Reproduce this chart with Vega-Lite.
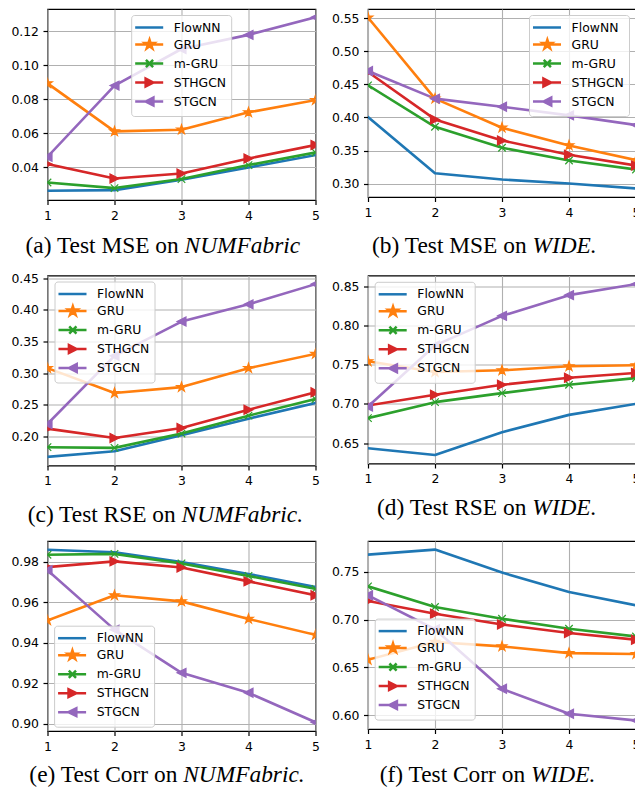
{
  "$schema": "https://vega.github.io/schema/vega-lite/v6.json",
  "autosize": {"type": "pad"},
  "padding": {"left": 9.5, "top": 8, "right": 0, "bottom": 0},
  "data": {"values": [
    {"p":"a","m":"FlowNN","x":1,"y":0.0263},{"p":"a","m":"FlowNN","x":2,"y":0.0267},{"p":"a","m":"FlowNN","x":3,"y":0.0328},{"p":"a","m":"FlowNN","x":4,"y":0.0400},{"p":"a","m":"FlowNN","x":5,"y":0.0473},
    {"p":"a","m":"GRU","x":1,"y":0.0894},{"p":"a","m":"GRU","x":2,"y":0.0612},{"p":"a","m":"GRU","x":3,"y":0.0622},{"p":"a","m":"GRU","x":4,"y":0.0724},{"p":"a","m":"GRU","x":5,"y":0.0796},
    {"p":"a","m":"m-GRU","x":1,"y":0.0312},{"p":"a","m":"m-GRU","x":2,"y":0.0279},{"p":"a","m":"m-GRU","x":3,"y":0.0332},{"p":"a","m":"m-GRU","x":4,"y":0.0414},{"p":"a","m":"m-GRU","x":5,"y":0.0488},
    {"p":"a","m":"STHGCN","x":1,"y":0.0420},{"p":"a","m":"STHGCN","x":2,"y":0.0335},{"p":"a","m":"STHGCN","x":3,"y":0.0365},{"p":"a","m":"STHGCN","x":4,"y":0.0453},{"p":"a","m":"STHGCN","x":5,"y":0.0532},
    {"p":"a","m":"STGCN","x":1,"y":0.0463},{"p":"a","m":"STGCN","x":2,"y":0.0881},{"p":"a","m":"STGCN","x":3,"y":0.1096},{"p":"a","m":"STGCN","x":4,"y":0.1179},{"p":"a","m":"STGCN","x":5,"y":0.1282},
    {"p":"b","m":"FlowNN","x":1,"y":0.4006},{"p":"b","m":"FlowNN","x":2,"y":0.3160},{"p":"b","m":"FlowNN","x":3,"y":0.3065},{"p":"b","m":"FlowNN","x":4,"y":0.3005},{"p":"b","m":"FlowNN","x":5,"y":0.2930},
    {"p":"b","m":"GRU","x":1,"y":0.5507},{"p":"b","m":"GRU","x":2,"y":0.4284},{"p":"b","m":"GRU","x":3,"y":0.3846},{"p":"b","m":"GRU","x":4,"y":0.3579},{"p":"b","m":"GRU","x":5,"y":0.3357},
    {"p":"b","m":"m-GRU","x":1,"y":0.4485},{"p":"b","m":"m-GRU","x":2,"y":0.3860},{"p":"b","m":"m-GRU","x":3,"y":0.3544},{"p":"b","m":"m-GRU","x":4,"y":0.3352},{"p":"b","m":"m-GRU","x":5,"y":0.3216},
    {"p":"b","m":"STHGCN","x":1,"y":0.4686},{"p":"b","m":"STHGCN","x":2,"y":0.3971},{"p":"b","m":"STHGCN","x":3,"y":0.3654},{"p":"b","m":"STHGCN","x":4,"y":0.3438},{"p":"b","m":"STHGCN","x":5,"y":0.3276},
    {"p":"b","m":"STGCN","x":1,"y":0.4700},{"p":"b","m":"STGCN","x":2,"y":0.4284},{"p":"b","m":"STGCN","x":3,"y":0.4163},{"p":"b","m":"STGCN","x":4,"y":0.4032},{"p":"b","m":"STGCN","x":5,"y":0.3886},
    {"p":"c","m":"FlowNN","x":1,"y":0.1673},{"p":"c","m":"FlowNN","x":2,"y":0.1763},{"p":"c","m":"FlowNN","x":3,"y":0.2016},{"p":"c","m":"FlowNN","x":4,"y":0.2278},{"p":"c","m":"FlowNN","x":5,"y":0.2526},
    {"p":"c","m":"GRU","x":1,"y":0.3078},{"p":"c","m":"GRU","x":2,"y":0.2684},{"p":"c","m":"GRU","x":3,"y":0.2778},{"p":"c","m":"GRU","x":4,"y":0.3078},{"p":"c","m":"GRU","x":5,"y":0.3304},
    {"p":"c","m":"m-GRU","x":1,"y":0.1826},{"p":"c","m":"m-GRU","x":2,"y":0.1815},{"p":"c","m":"m-GRU","x":3,"y":0.2042},{"p":"c","m":"m-GRU","x":4,"y":0.2326},{"p":"c","m":"m-GRU","x":5,"y":0.2589},
    {"p":"c","m":"STHGCN","x":1,"y":0.2120},{"p":"c","m":"STHGCN","x":2,"y":0.1973},{"p":"c","m":"STHGCN","x":3,"y":0.2131},{"p":"c","m":"STHGCN","x":4,"y":0.2420},{"p":"c","m":"STHGCN","x":5,"y":0.2695},
    {"p":"c","m":"STGCN","x":1,"y":0.2194},{"p":"c","m":"STGCN","x":2,"y":0.3273},{"p":"c","m":"STGCN","x":3,"y":0.3816},{"p":"c","m":"STGCN","x":4,"y":0.4089},{"p":"c","m":"STGCN","x":5,"y":0.4409},
    {"p":"d","m":"FlowNN","x":1,"y":0.6436},{"p":"d","m":"FlowNN","x":2,"y":0.6351},{"p":"d","m":"FlowNN","x":3,"y":0.6640},{"p":"d","m":"FlowNN","x":4,"y":0.6861},{"p":"d","m":"FlowNN","x":5,"y":0.7002},
    {"p":"d","m":"GRU","x":1,"y":0.7543},{"p":"d","m":"GRU","x":2,"y":0.7406},{"p":"d","m":"GRU","x":3,"y":0.7428},{"p":"d","m":"GRU","x":4,"y":0.7479},{"p":"d","m":"GRU","x":5,"y":0.7492},
    {"p":"d","m":"m-GRU","x":1,"y":0.6819},{"p":"d","m":"m-GRU","x":2,"y":0.7023},{"p":"d","m":"m-GRU","x":3,"y":0.7138},{"p":"d","m":"m-GRU","x":4,"y":0.7244},{"p":"d","m":"m-GRU","x":5,"y":0.7330},
    {"p":"d","m":"STHGCN","x":1,"y":0.6981},{"p":"d","m":"STHGCN","x":2,"y":0.7117},{"p":"d","m":"STHGCN","x":3,"y":0.7244},{"p":"d","m":"STHGCN","x":4,"y":0.7334},{"p":"d","m":"STHGCN","x":5,"y":0.7394},
    {"p":"d","m":"STGCN","x":1,"y":0.6968},{"p":"d","m":"STGCN","x":2,"y":0.7745},{"p":"d","m":"STGCN","x":3,"y":0.8121},{"p":"d","m":"STGCN","x":4,"y":0.8385},{"p":"d","m":"STGCN","x":5,"y":0.8526},
    {"p":"e","m":"FlowNN","x":1,"y":0.9861},{"p":"e","m":"FlowNN","x":2,"y":0.9848},{"p":"e","m":"FlowNN","x":3,"y":0.9800},{"p":"e","m":"FlowNN","x":4,"y":0.9741},{"p":"e","m":"FlowNN","x":5,"y":0.9676},
    {"p":"e","m":"GRU","x":1,"y":0.9511},{"p":"e","m":"GRU","x":2,"y":0.9635},{"p":"e","m":"GRU","x":3,"y":0.9605},{"p":"e","m":"GRU","x":4,"y":0.9518},{"p":"e","m":"GRU","x":5,"y":0.9439},
    {"p":"e","m":"m-GRU","x":1,"y":0.9836},{"p":"e","m":"m-GRU","x":2,"y":0.9840},{"p":"e","m":"m-GRU","x":3,"y":0.9793},{"p":"e","m":"m-GRU","x":4,"y":0.9731},{"p":"e","m":"m-GRU","x":5,"y":0.9667},
    {"p":"e","m":"STHGCN","x":1,"y":0.9775},{"p":"e","m":"STHGCN","x":2,"y":0.9803},{"p":"e","m":"STHGCN","x":3,"y":0.9773},{"p":"e","m":"STHGCN","x":4,"y":0.9704},{"p":"e","m":"STHGCN","x":5,"y":0.9635},
    {"p":"e","m":"STGCN","x":1,"y":0.9759},{"p":"e","m":"STGCN","x":2,"y":0.9465},{"p":"e","m":"STGCN","x":3,"y":0.9251},{"p":"e","m":"STGCN","x":4,"y":0.9152},{"p":"e","m":"STGCN","x":5,"y":0.9006},
    {"p":"f","m":"FlowNN","x":1,"y":0.7681},{"p":"f","m":"FlowNN","x":2,"y":0.7734},{"p":"f","m":"FlowNN","x":3,"y":0.7493},{"p":"f","m":"FlowNN","x":4,"y":0.7290},{"p":"f","m":"FlowNN","x":5,"y":0.7150},
    {"p":"f","m":"GRU","x":1,"y":0.6580},{"p":"f","m":"GRU","x":2,"y":0.6766},{"p":"f","m":"GRU","x":3,"y":0.6720},{"p":"f","m":"GRU","x":4,"y":0.6650},{"p":"f","m":"GRU","x":5,"y":0.6640},
    {"p":"f","m":"m-GRU","x":1,"y":0.7349},{"p":"f","m":"m-GRU","x":2,"y":0.7133},{"p":"f","m":"m-GRU","x":3,"y":0.7010},{"p":"f","m":"m-GRU","x":4,"y":0.6905},{"p":"f","m":"m-GRU","x":5,"y":0.6824},
    {"p":"f","m":"STHGCN","x":1,"y":0.7196},{"p":"f","m":"STHGCN","x":2,"y":0.7062},{"p":"f","m":"STHGCN","x":3,"y":0.6950},{"p":"f","m":"STHGCN","x":4,"y":0.6860},{"p":"f","m":"STHGCN","x":5,"y":0.6790},
    {"p":"f","m":"STGCN","x":1,"y":0.7255},{"p":"f","m":"STGCN","x":2,"y":0.6900},{"p":"f","m":"STGCN","x":3,"y":0.6276},{"p":"f","m":"STGCN","x":4,"y":0.6014},{"p":"f","m":"STGCN","x":5,"y":0.5944}
  ]},
  "spacing": 12.5,
  "resolve": {"scale": {"color": "independent"}, "legend": {"color": "independent"}},
  "vconcat": [
    {
      "spacing": 9.5,
      "resolve": {"scale": {"color": "independent"}, "legend": {"color": "independent"}},
      "hconcat": [
        {
          "width": 268, "height": 191,
          "transform": [{"filter": "datum.p === 'a'"}],
          "title": {"text": "(a) Test MSE on", "subtitle": "NUMFabric", "offset": 13.2, "encode": {"title": {"update": {"align": {"value": "right"}, "dx": {"value": -2.75}}}, "subtitle": {"update": {"align": {"value": "left"}, "dx": {"value": 3.1}}}}},
          "encoding": {
            "x": {"field": "x", "type": "quantitative", "scale": {"domain": [1, 5], "nice": false, "zero": false}, "axis": {"values": [1, 2, 3, 4, 5], "format": "d", "title": null, "labelFlush": false}},
            "y": {"field": "y", "type": "quantitative", "scale": {"domain": [0.0209, 0.1331], "nice": false, "zero": false}, "axis": {"values": [0.04, 0.06, 0.08, 0.10, 0.12], "format": ".2f", "title": null}},
            "color": {"field": "m", "type": "nominal", "scale": {"domain": ["FlowNN", "GRU", "m-GRU", "STHGCN", "STGCN"], "range": ["#1f77b4", "#ff7f0e", "#2ca02c", "#d62728", "#9467bd"]},
              "legend": {"orient": "none", "legendX": 83.7, "legendY": 6, "title": null,
                "encode": {"symbols": {"update": {
                  "shape": {"signal": "datum.value === 'GRU' ? 'M-1.42,0L3.25,0M0.97,-0.8L1.15,-0.247L1.731,-0.247L1.26,0.094L1.44,0.647L0.97,0.306L0.5,0.647L0.68,0.094L0.209,-0.247L0.79,-0.247Z' : datum.value === 'm-GRU' ? 'M-1.42,0L3.25,0M0.37,-0.6L1.57,0.6M0.37,0.6L1.57,-0.6' : datum.value === 'STHGCN' ? 'M-1.42,0L3.25,0M1.62,0L0.32,-0.65L0.32,0.65Z' : datum.value === 'STGCN' ? 'M-1.42,0L3.25,0M0.32,0L1.62,-0.65L1.62,0.65Z' : 'M-1.42,0L3.25,0'"},
                  "fill": {"signal": "datum.value === 'FlowNN' ? '#1f77b4' : datum.value === 'GRU' ? '#ff7f0e' : datum.value === 'm-GRU' ? '#2ca02c' : datum.value === 'STHGCN' ? '#d62728' : '#9467bd'"},
                  "stroke": {"signal": "datum.value === 'FlowNN' ? '#1f77b4' : datum.value === 'GRU' ? '#ff7f0e' : datum.value === 'm-GRU' ? '#2ca02c' : datum.value === 'STHGCN' ? '#d62728' : '#9467bd'"},
                  "strokeWidth": {"value": 2.5},
                  "opacity": {"value": 1}
                }}}}}
          },
          "layer": [
            {"mark": {"type": "line", "strokeWidth": 2.6, "strokeJoin": "round", "strokeCap": "square", "clip": true}},
            {"transform": [{"filter": "datum.m !== 'FlowNN'"}],
             "mark": {"type": "point", "filled": true, "opacity": 1, "size": 100, "strokeWidth": 1.2, "clip": true},
             "encoding": {
               "color": {"field": "m", "type": "nominal", "legend": null},
               "stroke": {"field": "m", "type": "nominal", "scale": {"domain": ["FlowNN", "GRU", "m-GRU", "STHGCN", "STGCN"], "range": ["#1f77b4", "#ff7f0e", "#2ca02c", "#d62728", "#9467bd"]}, "legend": null},
               "shape": {"field": "m", "type": "nominal", "scale": {"domain": ["GRU", "m-GRU", "STHGCN", "STGCN"], "range": ["M0,-1L0.225,-0.309L0.951,-0.309L0.363,0.118L0.588,0.809L0,0.382L-0.588,0.809L-0.363,0.118L-0.951,-0.309L-0.225,-0.309Z", "M-0.75,-0.75L0.75,0.75M-0.75,0.75L0.75,-0.75", "M0.9,0L-0.9,-0.9L-0.9,0.9Z", "M-0.9,0L0.9,-0.9L0.9,0.9Z"]}, "legend": null}
             }}
          ]
        },
        {
          "width": 268, "height": 188,
          "transform": [{"filter": "datum.p === 'b'"}],
          "title": {"text": "(b) Test MSE on", "subtitle": "WIDE.", "offset": 16.8, "encode": {"title": {"update": {"align": {"value": "right"}, "dx": {"value": 24.6}}}, "subtitle": {"update": {"align": {"value": "left"}, "dx": {"value": 30.4}}}}},
          "encoding": {
            "x": {"field": "x", "type": "quantitative", "scale": {"domain": [1, 5], "nice": false, "zero": false}, "axis": {"values": [1, 2, 3, 4, 5], "format": "d", "title": null, "labelFlush": false}},
            "y": {"field": "y", "type": "quantitative", "scale": {"domain": [0.2801, 0.5636], "nice": false, "zero": false}, "axis": {"values": [0.30, 0.35, 0.40, 0.45, 0.50, 0.55], "format": ".2f", "title": null}},
            "color": {"field": "m", "type": "nominal", "scale": {"domain": ["FlowNN", "GRU", "m-GRU", "STHGCN", "STGCN"], "range": ["#1f77b4", "#ff7f0e", "#2ca02c", "#d62728", "#9467bd"]},
              "legend": {"orient": "none", "legendX": 161, "legendY": 6, "title": null,
                "encode": {"symbols": {"update": {
                  "shape": {"signal": "datum.value === 'GRU' ? 'M-1.42,0L3.25,0M0.97,-0.8L1.15,-0.247L1.731,-0.247L1.26,0.094L1.44,0.647L0.97,0.306L0.5,0.647L0.68,0.094L0.209,-0.247L0.79,-0.247Z' : datum.value === 'm-GRU' ? 'M-1.42,0L3.25,0M0.37,-0.6L1.57,0.6M0.37,0.6L1.57,-0.6' : datum.value === 'STHGCN' ? 'M-1.42,0L3.25,0M1.62,0L0.32,-0.65L0.32,0.65Z' : datum.value === 'STGCN' ? 'M-1.42,0L3.25,0M0.32,0L1.62,-0.65L1.62,0.65Z' : 'M-1.42,0L3.25,0'"},
                  "fill": {"signal": "datum.value === 'FlowNN' ? '#1f77b4' : datum.value === 'GRU' ? '#ff7f0e' : datum.value === 'm-GRU' ? '#2ca02c' : datum.value === 'STHGCN' ? '#d62728' : '#9467bd'"},
                  "stroke": {"signal": "datum.value === 'FlowNN' ? '#1f77b4' : datum.value === 'GRU' ? '#ff7f0e' : datum.value === 'm-GRU' ? '#2ca02c' : datum.value === 'STHGCN' ? '#d62728' : '#9467bd'"},
                  "strokeWidth": {"value": 2.5},
                  "opacity": {"value": 1}
                }}}}}
          },
          "layer": [
            {"mark": {"type": "line", "strokeWidth": 2.6, "strokeJoin": "round", "strokeCap": "square", "clip": true}},
            {"transform": [{"filter": "datum.m !== 'FlowNN'"}],
             "mark": {"type": "point", "filled": true, "opacity": 1, "size": 100, "strokeWidth": 1.2, "clip": true},
             "encoding": {
               "color": {"field": "m", "type": "nominal", "legend": null},
               "stroke": {"field": "m", "type": "nominal", "scale": {"domain": ["FlowNN", "GRU", "m-GRU", "STHGCN", "STGCN"], "range": ["#1f77b4", "#ff7f0e", "#2ca02c", "#d62728", "#9467bd"]}, "legend": null},
               "shape": {"field": "m", "type": "nominal", "scale": {"domain": ["GRU", "m-GRU", "STHGCN", "STGCN"], "range": ["M0,-1L0.225,-0.309L0.951,-0.309L0.363,0.118L0.588,0.809L0,0.382L-0.588,0.809L-0.363,0.118L-0.951,-0.309L-0.225,-0.309Z", "M-0.75,-0.75L0.75,0.75M-0.75,0.75L0.75,-0.75", "M0.9,0L-0.9,-0.9L-0.9,0.9Z", "M-0.9,0L0.9,-0.9L0.9,0.9Z"]}, "legend": null}
             }}
          ]
        }
      ]
    },
    {
      "spacing": 9.5,
      "resolve": {"scale": {"color": "independent"}, "legend": {"color": "independent"}},
      "hconcat": [
        {
          "width": 268, "height": 190,
          "transform": [{"filter": "datum.p === 'c'"}],
          "title": {"text": "(c) Test RSE on", "subtitle": "NUMFabric.", "offset": 16.8, "encode": {"title": {"update": {"align": {"value": "right"}, "dx": {"value": -5.75}}}, "subtitle": {"update": {"align": {"value": "left"}, "dx": {"value": 0.1}}}}},
          "encoding": {
            "x": {"field": "x", "type": "quantitative", "scale": {"domain": [1, 5], "nice": false, "zero": false}, "axis": {"values": [1, 2, 3, 4, 5], "format": "d", "title": null, "labelFlush": false}},
            "y": {"field": "y", "type": "quantitative", "scale": {"domain": [0.1536, 0.4546], "nice": false, "zero": false}, "axis": {"values": [0.20, 0.25, 0.30, 0.35, 0.40, 0.45], "format": ".2f", "title": null}},
            "color": {"field": "m", "type": "nominal", "scale": {"domain": ["FlowNN", "GRU", "m-GRU", "STHGCN", "STGCN"], "range": ["#1f77b4", "#ff7f0e", "#2ca02c", "#d62728", "#9467bd"]},
              "legend": {"orient": "none", "legendX": 7, "legendY": 6, "title": null,
                "encode": {"symbols": {"update": {
                  "shape": {"signal": "datum.value === 'GRU' ? 'M-1.42,0L3.25,0M0.97,-0.8L1.15,-0.247L1.731,-0.247L1.26,0.094L1.44,0.647L0.97,0.306L0.5,0.647L0.68,0.094L0.209,-0.247L0.79,-0.247Z' : datum.value === 'm-GRU' ? 'M-1.42,0L3.25,0M0.37,-0.6L1.57,0.6M0.37,0.6L1.57,-0.6' : datum.value === 'STHGCN' ? 'M-1.42,0L3.25,0M1.62,0L0.32,-0.65L0.32,0.65Z' : datum.value === 'STGCN' ? 'M-1.42,0L3.25,0M0.32,0L1.62,-0.65L1.62,0.65Z' : 'M-1.42,0L3.25,0'"},
                  "fill": {"signal": "datum.value === 'FlowNN' ? '#1f77b4' : datum.value === 'GRU' ? '#ff7f0e' : datum.value === 'm-GRU' ? '#2ca02c' : datum.value === 'STHGCN' ? '#d62728' : '#9467bd'"},
                  "stroke": {"signal": "datum.value === 'FlowNN' ? '#1f77b4' : datum.value === 'GRU' ? '#ff7f0e' : datum.value === 'm-GRU' ? '#2ca02c' : datum.value === 'STHGCN' ? '#d62728' : '#9467bd'"},
                  "strokeWidth": {"value": 2.5},
                  "opacity": {"value": 1}
                }}}}}
          },
          "layer": [
            {"mark": {"type": "line", "strokeWidth": 2.6, "strokeJoin": "round", "strokeCap": "square", "clip": true}},
            {"transform": [{"filter": "datum.m !== 'FlowNN'"}],
             "mark": {"type": "point", "filled": true, "opacity": 1, "size": 100, "strokeWidth": 1.2, "clip": true},
             "encoding": {
               "color": {"field": "m", "type": "nominal", "legend": null},
               "stroke": {"field": "m", "type": "nominal", "scale": {"domain": ["FlowNN", "GRU", "m-GRU", "STHGCN", "STGCN"], "range": ["#1f77b4", "#ff7f0e", "#2ca02c", "#d62728", "#9467bd"]}, "legend": null},
               "shape": {"field": "m", "type": "nominal", "scale": {"domain": ["GRU", "m-GRU", "STHGCN", "STGCN"], "range": ["M0,-1L0.225,-0.309L0.951,-0.309L0.363,0.118L0.588,0.809L0,0.382L-0.588,0.809L-0.363,0.118L-0.951,-0.309L-0.225,-0.309Z", "M-0.75,-0.75L0.75,0.75M-0.75,0.75L0.75,-0.75", "M0.9,0L-0.9,-0.9L-0.9,0.9Z", "M-0.9,0L0.9,-0.9L0.9,0.9Z"]}, "legend": null}
             }}
          ]
        },
        {
          "width": 268, "height": 188,
          "transform": [{"filter": "datum.p === 'd'"}],
          "title": {"text": "(d) Test RSE on", "subtitle": "WIDE.", "offset": 11.8, "encode": {"title": {"update": {"align": {"value": "right"}, "dx": {"value": 24.35}}}, "subtitle": {"update": {"align": {"value": "left"}, "dx": {"value": 30.2}}}}},
          "encoding": {
            "x": {"field": "x", "type": "quantitative", "scale": {"domain": [1, 5], "nice": false, "zero": false}, "axis": {"values": [1, 2, 3, 4, 5], "format": "d", "title": null, "labelFlush": false}},
            "y": {"field": "y", "type": "quantitative", "scale": {"domain": [0.6242, 0.8635], "nice": false, "zero": false}, "axis": {"values": [0.65, 0.70, 0.75, 0.80, 0.85], "format": ".2f", "title": null}},
            "color": {"field": "m", "type": "nominal", "scale": {"domain": ["FlowNN", "GRU", "m-GRU", "STHGCN", "STGCN"], "range": ["#1f77b4", "#ff7f0e", "#2ca02c", "#d62728", "#9467bd"]},
              "legend": {"orient": "none", "legendX": 6.7, "legendY": 6.3, "title": null,
                "encode": {"symbols": {"update": {
                  "shape": {"signal": "datum.value === 'GRU' ? 'M-1.42,0L3.25,0M0.97,-0.8L1.15,-0.247L1.731,-0.247L1.26,0.094L1.44,0.647L0.97,0.306L0.5,0.647L0.68,0.094L0.209,-0.247L0.79,-0.247Z' : datum.value === 'm-GRU' ? 'M-1.42,0L3.25,0M0.37,-0.6L1.57,0.6M0.37,0.6L1.57,-0.6' : datum.value === 'STHGCN' ? 'M-1.42,0L3.25,0M1.62,0L0.32,-0.65L0.32,0.65Z' : datum.value === 'STGCN' ? 'M-1.42,0L3.25,0M0.32,0L1.62,-0.65L1.62,0.65Z' : 'M-1.42,0L3.25,0'"},
                  "fill": {"signal": "datum.value === 'FlowNN' ? '#1f77b4' : datum.value === 'GRU' ? '#ff7f0e' : datum.value === 'm-GRU' ? '#2ca02c' : datum.value === 'STHGCN' ? '#d62728' : '#9467bd'"},
                  "stroke": {"signal": "datum.value === 'FlowNN' ? '#1f77b4' : datum.value === 'GRU' ? '#ff7f0e' : datum.value === 'm-GRU' ? '#2ca02c' : datum.value === 'STHGCN' ? '#d62728' : '#9467bd'"},
                  "strokeWidth": {"value": 2.5},
                  "opacity": {"value": 1}
                }}}}}
          },
          "layer": [
            {"mark": {"type": "line", "strokeWidth": 2.6, "strokeJoin": "round", "strokeCap": "square", "clip": true}},
            {"transform": [{"filter": "datum.m !== 'FlowNN'"}],
             "mark": {"type": "point", "filled": true, "opacity": 1, "size": 100, "strokeWidth": 1.2, "clip": true},
             "encoding": {
               "color": {"field": "m", "type": "nominal", "legend": null},
               "stroke": {"field": "m", "type": "nominal", "scale": {"domain": ["FlowNN", "GRU", "m-GRU", "STHGCN", "STGCN"], "range": ["#1f77b4", "#ff7f0e", "#2ca02c", "#d62728", "#9467bd"]}, "legend": null},
               "shape": {"field": "m", "type": "nominal", "scale": {"domain": ["GRU", "m-GRU", "STHGCN", "STGCN"], "range": ["M0,-1L0.225,-0.309L0.951,-0.309L0.363,0.118L0.588,0.809L0,0.382L-0.588,0.809L-0.363,0.118L-0.951,-0.309L-0.225,-0.309Z", "M-0.75,-0.75L0.75,0.75M-0.75,0.75L0.75,-0.75", "M0.9,0L-0.9,-0.9L-0.9,0.9Z", "M-0.9,0L0.9,-0.9L0.9,0.9Z"]}, "legend": null}
             }}
          ]
        }
      ]
    },
    {
      "spacing": 9.5,
      "resolve": {"scale": {"color": "independent"}, "legend": {"color": "independent"}},
      "hconcat": [
        {
          "width": 268, "height": 190,
          "transform": [{"filter": "datum.p === 'e'"}],
          "title": {"text": "(e) Test Corr on", "subtitle": "NUMFabric.", "offset": 11.3, "encode": {"title": {"update": {"align": {"value": "right"}, "dx": {"value": -4.15}}}, "subtitle": {"update": {"align": {"value": "left"}, "dx": {"value": 1.7}}}}},
          "encoding": {
            "x": {"field": "x", "type": "quantitative", "scale": {"domain": [1, 5], "nice": false, "zero": false}, "axis": {"values": [1, 2, 3, 4, 5], "format": "d", "title": null, "labelFlush": false}},
            "y": {"field": "y", "type": "quantitative", "scale": {"domain": [0.8963, 0.9904], "nice": false, "zero": false}, "axis": {"values": [0.90, 0.92, 0.94, 0.96, 0.98], "format": ".2f", "title": null}},
            "color": {"field": "m", "type": "nominal", "scale": {"domain": ["FlowNN", "GRU", "m-GRU", "STHGCN", "STGCN"], "range": ["#1f77b4", "#ff7f0e", "#2ca02c", "#d62728", "#9467bd"]},
              "legend": {"orient": "none", "legendX": 6.6, "legendY": 84.7, "title": null,
                "encode": {"symbols": {"update": {
                  "shape": {"signal": "datum.value === 'GRU' ? 'M-1.42,0L3.25,0M0.97,-0.8L1.15,-0.247L1.731,-0.247L1.26,0.094L1.44,0.647L0.97,0.306L0.5,0.647L0.68,0.094L0.209,-0.247L0.79,-0.247Z' : datum.value === 'm-GRU' ? 'M-1.42,0L3.25,0M0.37,-0.6L1.57,0.6M0.37,0.6L1.57,-0.6' : datum.value === 'STHGCN' ? 'M-1.42,0L3.25,0M1.62,0L0.32,-0.65L0.32,0.65Z' : datum.value === 'STGCN' ? 'M-1.42,0L3.25,0M0.32,0L1.62,-0.65L1.62,0.65Z' : 'M-1.42,0L3.25,0'"},
                  "fill": {"signal": "datum.value === 'FlowNN' ? '#1f77b4' : datum.value === 'GRU' ? '#ff7f0e' : datum.value === 'm-GRU' ? '#2ca02c' : datum.value === 'STHGCN' ? '#d62728' : '#9467bd'"},
                  "stroke": {"signal": "datum.value === 'FlowNN' ? '#1f77b4' : datum.value === 'GRU' ? '#ff7f0e' : datum.value === 'm-GRU' ? '#2ca02c' : datum.value === 'STHGCN' ? '#d62728' : '#9467bd'"},
                  "strokeWidth": {"value": 2.5},
                  "opacity": {"value": 1}
                }}}}}
          },
          "layer": [
            {"mark": {"type": "line", "strokeWidth": 2.6, "strokeJoin": "round", "strokeCap": "square", "clip": true}},
            {"transform": [{"filter": "datum.m !== 'FlowNN'"}],
             "mark": {"type": "point", "filled": true, "opacity": 1, "size": 100, "strokeWidth": 1.2, "clip": true},
             "encoding": {
               "color": {"field": "m", "type": "nominal", "legend": null},
               "stroke": {"field": "m", "type": "nominal", "scale": {"domain": ["FlowNN", "GRU", "m-GRU", "STHGCN", "STGCN"], "range": ["#1f77b4", "#ff7f0e", "#2ca02c", "#d62728", "#9467bd"]}, "legend": null},
               "shape": {"field": "m", "type": "nominal", "scale": {"domain": ["GRU", "m-GRU", "STHGCN", "STGCN"], "range": ["M0,-1L0.225,-0.309L0.951,-0.309L0.363,0.118L0.588,0.809L0,0.382L-0.588,0.809L-0.363,0.118L-0.951,-0.309L-0.225,-0.309Z", "M-0.75,-0.75L0.75,0.75M-0.75,0.75L0.75,-0.75", "M0.9,0L-0.9,-0.9L-0.9,0.9Z", "M-0.9,0L0.9,-0.9L0.9,0.9Z"]}, "legend": null}
             }}
          ]
        },
        {
          "width": 268, "height": 188,
          "transform": [{"filter": "datum.p === 'f'"}],
          "title": {"text": "(f) Test Corr on", "subtitle": "WIDE.", "offset": 13.3, "encode": {"title": {"update": {"align": {"value": "right"}, "dx": {"value": 23.15}}}, "subtitle": {"update": {"align": {"value": "left"}, "dx": {"value": 29}}}}},
          "encoding": {
            "x": {"field": "x", "type": "quantitative", "scale": {"domain": [1, 5], "nice": false, "zero": false}, "axis": {"values": [1, 2, 3, 4, 5], "format": "d", "title": null, "labelFlush": false}},
            "y": {"field": "y", "type": "quantitative", "scale": {"domain": [0.5855, 0.7824], "nice": false, "zero": false}, "axis": {"values": [0.60, 0.65, 0.70, 0.75], "format": ".2f", "title": null}},
            "color": {"field": "m", "type": "nominal", "scale": {"domain": ["FlowNN", "GRU", "m-GRU", "STHGCN", "STGCN"], "range": ["#1f77b4", "#ff7f0e", "#2ca02c", "#d62728", "#9467bd"]},
              "legend": {"orient": "none", "legendX": 6.7, "legendY": 77.6, "title": null,
                "encode": {"symbols": {"update": {
                  "shape": {"signal": "datum.value === 'GRU' ? 'M-1.42,0L3.25,0M0.97,-0.8L1.15,-0.247L1.731,-0.247L1.26,0.094L1.44,0.647L0.97,0.306L0.5,0.647L0.68,0.094L0.209,-0.247L0.79,-0.247Z' : datum.value === 'm-GRU' ? 'M-1.42,0L3.25,0M0.37,-0.6L1.57,0.6M0.37,0.6L1.57,-0.6' : datum.value === 'STHGCN' ? 'M-1.42,0L3.25,0M1.62,0L0.32,-0.65L0.32,0.65Z' : datum.value === 'STGCN' ? 'M-1.42,0L3.25,0M0.32,0L1.62,-0.65L1.62,0.65Z' : 'M-1.42,0L3.25,0'"},
                  "fill": {"signal": "datum.value === 'FlowNN' ? '#1f77b4' : datum.value === 'GRU' ? '#ff7f0e' : datum.value === 'm-GRU' ? '#2ca02c' : datum.value === 'STHGCN' ? '#d62728' : '#9467bd'"},
                  "stroke": {"signal": "datum.value === 'FlowNN' ? '#1f77b4' : datum.value === 'GRU' ? '#ff7f0e' : datum.value === 'm-GRU' ? '#2ca02c' : datum.value === 'STHGCN' ? '#d62728' : '#9467bd'"},
                  "strokeWidth": {"value": 2.5},
                  "opacity": {"value": 1}
                }}}}}
          },
          "layer": [
            {"mark": {"type": "line", "strokeWidth": 2.6, "strokeJoin": "round", "strokeCap": "square", "clip": true}},
            {"transform": [{"filter": "datum.m !== 'FlowNN'"}],
             "mark": {"type": "point", "filled": true, "opacity": 1, "size": 100, "strokeWidth": 1.2, "clip": true},
             "encoding": {
               "color": {"field": "m", "type": "nominal", "legend": null},
               "stroke": {"field": "m", "type": "nominal", "scale": {"domain": ["FlowNN", "GRU", "m-GRU", "STHGCN", "STGCN"], "range": ["#1f77b4", "#ff7f0e", "#2ca02c", "#d62728", "#9467bd"]}, "legend": null},
               "shape": {"field": "m", "type": "nominal", "scale": {"domain": ["GRU", "m-GRU", "STHGCN", "STGCN"], "range": ["M0,-1L0.225,-0.309L0.951,-0.309L0.363,0.118L0.588,0.809L0,0.382L-0.588,0.809L-0.363,0.118L-0.951,-0.309L-0.225,-0.309Z", "M-0.75,-0.75L0.75,0.75M-0.75,0.75L0.75,-0.75", "M0.9,0L-0.9,-0.9L-0.9,0.9Z", "M-0.9,0L0.9,-0.9L0.9,0.9Z"]}, "legend": null}
             }}
          ]
        }
      ]
    }
  ],
  "config": {
    "background": "white",
    "view": {"stroke": "black", "strokeWidth": 1.2},
    "axis": {"domain": false, "grid": true, "gridColor": "#b0b0b0", "gridWidth": 1.1, "tickColor": "black", "tickSize": 4.5, "tickWidth": 1.2, "labelFont": "DejaVu Sans", "labelFontSize": 12.4, "labelColor": "black", "labelPadding": 4.5},
    "legend": {"padding": 5, "rowPadding": 0, "labelOffset": 22.6, "symbolSize": 144, "symbolStrokeWidth": 2.5, "labelFont": "DejaVu Sans", "labelFontSize": 12.4, "labelColor": "black", "fillColor": "rgba(255,255,255,0.8)", "strokeColor": "#cccccc", "cornerRadius": 3, "labelLimit": 0},
    "title": {"font": "Liberation Serif", "fontSize": 23.4, "fontWeight": "normal", "color": "black", "subtitleFont": "Liberation Serif", "subtitleFontSize": 23.4, "subtitleFontStyle": "italic", "subtitleFontWeight": "normal", "subtitleColor": "black", "subtitlePadding": -23.4, "orient": "bottom", "anchor": "middle", "frame": "group", "align": "left"}
  }
}
